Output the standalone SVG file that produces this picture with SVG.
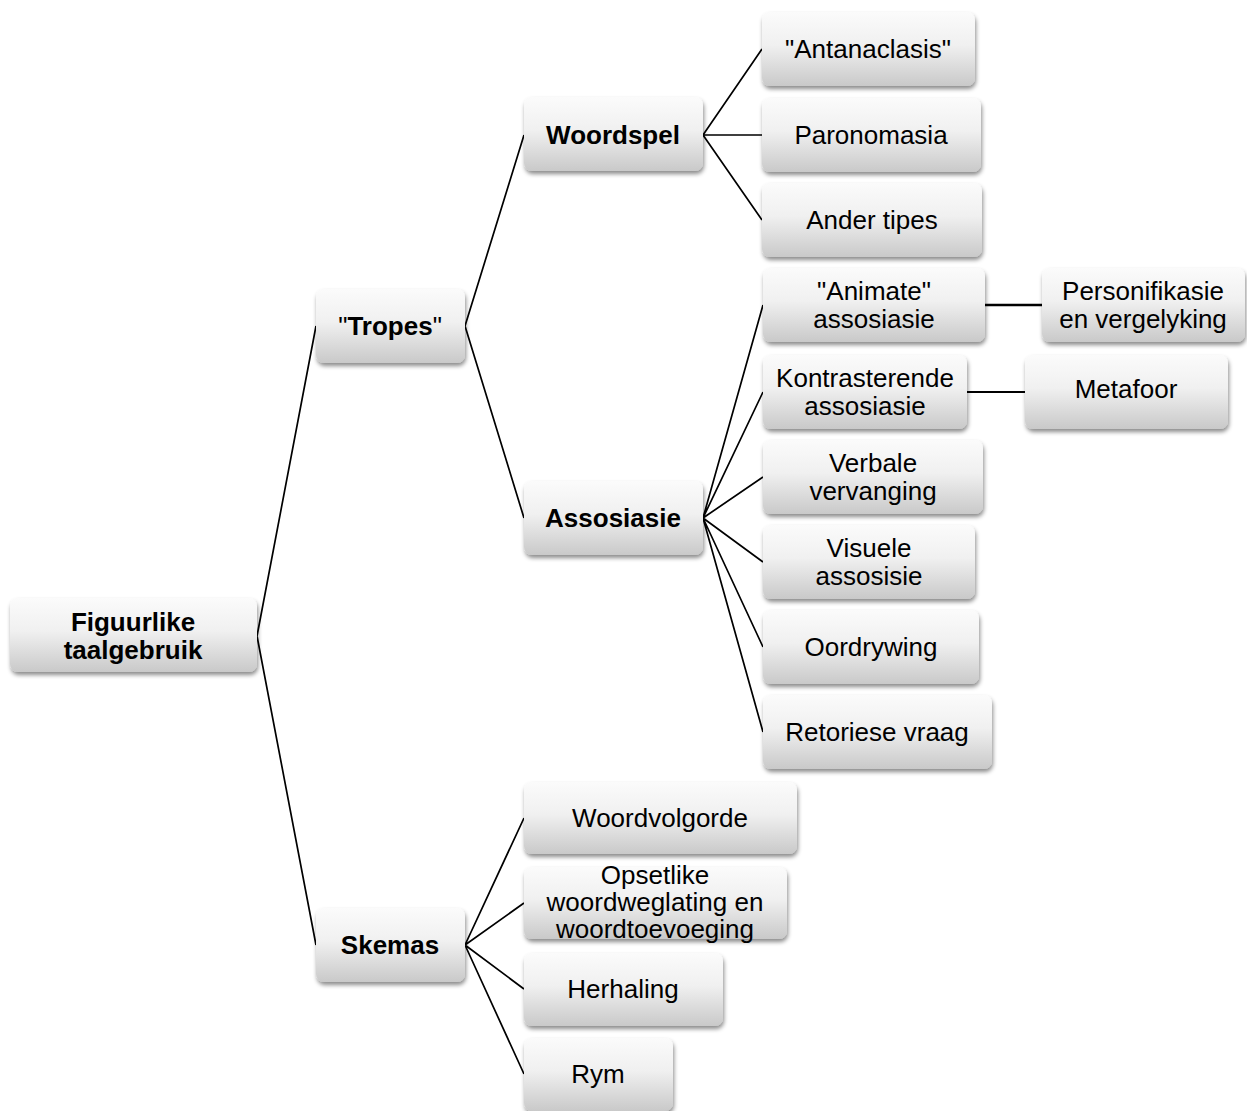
<svg xmlns="http://www.w3.org/2000/svg" width="1247" height="1111" viewBox="0 0 1247 1111">
<defs>
<linearGradient id="g" x1="0" y1="0" x2="0" y2="1">
<stop offset="0" stop-color="#fbfbfb"/>
<stop offset="0.45" stop-color="#f0f0f0"/>
<stop offset="1" stop-color="#c9c9c9"/>
</linearGradient>
<filter id="sh" x="-10%" y="-10%" width="120%" height="140%">
<feDropShadow dx="1" dy="3" stdDeviation="2" flood-color="#000" flood-opacity="0.45"/>
</filter>
</defs>
<style>
.box{fill:url(#g);filter:url(#sh);}
text{font-family:"Liberation Sans",Arial,sans-serif;font-size:26px;fill:#000;text-anchor:middle;}
.b{font-weight:bold;}
.c{stroke:#000;stroke-width:1.7;fill:none;}
</style>
<rect width="1247" height="1111" fill="#fff"/>
<g id="connectors">
<path class="c" d="M257 636 L316 326 M257 636 L316 945"/>
<path class="c" d="M465 326 L524 135 M465 326 L524 518"/>
<path class="c" d="M703 135 L762 49 M703 135 L762 135 M703 135 L762 220"/>
<path class="c" d="M703 518 L763 305 M703 518 L763 392 M703 518 L763 477 M703 518 L763 562 M703 518 L763 647 M703 518 L763 732"/>
<path class="c" d="M985 305 L1042 305" style="stroke-width:2.4"/>
<path class="c" d="M967 392 L1025 392" style="stroke-width:2.2"/>
<path class="c" d="M465 945 L524 818 M465 945 L524 903 M465 945 L524 989 M465 945 L524 1074"/>
</g>
<g id="n-root"><rect class="box" x="10" y="598" width="247" height="74" rx="8"/><text class="b" x="133" y="631">Figuurlike</text><text class="b" x="133" y="659">taalgebruik</text></g>
<g id="n-tropes"><rect class="box" x="316" y="289" width="149" height="74" rx="8"/><text x="390" y="335">"<tspan class="b">Tropes</tspan>"</text></g>
<g id="n-skemas"><rect class="box" x="316" y="908" width="149" height="74" rx="8"/><text class="b" x="390" y="954">Skemas</text></g>
<g id="n-woordspel"><rect class="box" x="524" y="97" width="179" height="74" rx="8"/><text class="b" x="613" y="144">Woordspel</text></g>
<g id="n-assosiasie"><rect class="box" x="524" y="481" width="179" height="74" rx="8"/><text class="b" x="613" y="527">Assosiasie</text></g>
<g id="n-antanaclasis"><rect class="box" x="762" y="12" width="213" height="74" rx="8"/><text x="868" y="58">"Antanaclasis"</text></g>
<g id="n-paronomasia"><rect class="box" x="762" y="98" width="219" height="74" rx="8"/><text x="871" y="144">Paronomasia</text></g>
<g id="n-ander"><rect class="box" x="762" y="183" width="220" height="74" rx="8"/><text x="872" y="229">Ander tipes</text></g>
<g id="n-animate"><rect class="box" x="763" y="268" width="222" height="74" rx="8"/><text x="874" y="300">"Animate"</text><text x="874" y="328">assosiasie</text></g>
<g id="n-kontrasterende"><rect class="box" x="763" y="355" width="204" height="74" rx="8"/><text x="865" y="387">Kontrasterende</text><text x="865" y="415">assosiasie</text></g>
<g id="n-verbale"><rect class="box" x="763" y="440" width="220" height="74" rx="8"/><text x="873" y="472">Verbale</text><text x="873" y="500">vervanging</text></g>
<g id="n-visuele"><rect class="box" x="763" y="525" width="212" height="74" rx="8"/><text x="869" y="557">Visuele</text><text x="869" y="585">assosisie</text></g>
<g id="n-oordrywing"><rect class="box" x="763" y="610" width="216" height="74" rx="8"/><text x="871" y="656">Oordrywing</text></g>
<g id="n-retoriese"><rect class="box" x="763" y="695" width="229" height="74" rx="8"/><text x="877" y="741">Retoriese vraag</text></g>
<g id="n-personifikasie"><rect class="box" x="1042" y="268" width="203" height="74" rx="8"/><text x="1143" y="300">Personifikasie</text><text x="1143" y="328">en vergelyking</text></g>
<g id="n-metafoor"><rect class="box" x="1025" y="355" width="203" height="74" rx="8"/><text x="1126" y="398">Metafoor</text></g>
<g id="n-woordvolgorde"><rect class="box" x="524" y="782" width="273" height="72" rx="8"/><text x="660" y="827">Woordvolgorde</text></g>
<g id="n-opsetlike"><rect class="box" x="524" y="867" width="263" height="72" rx="8"/><text x="655" y="884">Opsetlike</text><text x="655" y="911">woordweglating en</text><text x="655" y="938">woordtoevoeging</text></g>
<g id="n-herhaling"><rect class="box" x="524" y="953" width="199" height="73" rx="8"/><text x="623" y="998">Herhaling</text></g>
<g id="n-rym"><rect class="box" x="524" y="1038" width="149" height="73" rx="8"/><text x="598" y="1083">Rym</text></g>
</svg>
